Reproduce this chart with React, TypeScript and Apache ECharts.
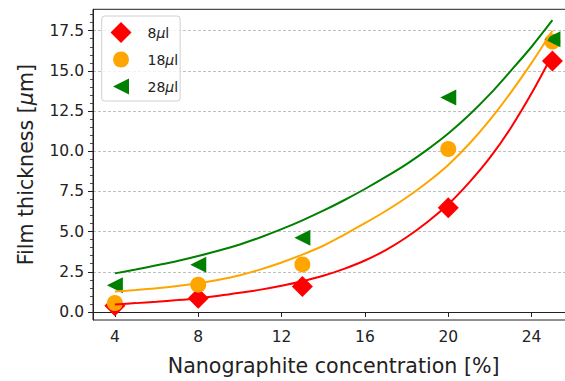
import React, { useEffect, useRef } from 'react';
import * as echarts from 'echarts';

// measured points
const concentrations = [4, 8, 13, 20, 25];
const thickness8 = [0.38, 0.85, 1.58, 6.48, 15.62];
const thickness18 = [0.56, 1.7, 2.96, 10.14, 16.82];
const thickness28 = [1.66, 2.94, 4.62, 13.35, 16.97];

// fitted curves (at each integer concentration)
const fitX = [4, 5, 6, 7, 8, 9, 10, 11, 12, 13, 14, 15, 16, 17, 18, 19, 20, 21, 22, 23, 24, 25];
const fit8 = [0.47, 0.55, 0.64, 0.74, 0.86, 1.01, 1.19, 1.39, 1.63, 1.91, 2.25, 2.68, 3.2, 3.85, 4.65, 5.6, 6.7, 8.05, 9.6, 11.45, 13.6, 16.0];
const fit18 = [1.27, 1.36, 1.47, 1.61, 1.78, 2.0, 2.28, 2.65, 3.08, 3.57, 4.12, 4.8, 5.52, 6.28, 7.12, 8.07, 9.15, 10.45, 11.95, 13.65, 15.5, 17.5];
const fit28 = [2.4, 2.64, 2.9, 3.17, 3.48, 3.82, 4.2, 4.65, 5.15, 5.7, 6.3, 6.95, 7.65, 8.4, 9.2, 10.1, 11.1, 12.25, 13.55, 15.0, 16.5, 18.15];

const seriesNames = ['8μl', '18μl', '28μl'];
const xTicks = [4, 8, 12, 16, 20, 24];
const yTicks = [0, 2.5, 5, 7.5, 10, 12.5, 15, 17.5];
const yMinorTicks = [0, 0.5, 1, 1.5, 2, 2.5, 3, 3.5, 4, 4.5, 5, 5.5, 6, 6.5, 7, 7.5, 8, 8.5, 9, 9.5, 10, 10.5, 11, 11.5, 12, 12.5, 13, 13.5, 14, 14.5, 15, 15.5, 16, 16.5, 17, 17.5, 18, 18.5];

const FONT = 'DejaVu Sans';
const TEXT = '#222222';
const TRI = 'path://M0,8L16,0L16,16Z';
const TRI_LEG = 'path://M0,0M21,21M2.5,10.5L18.5,2.5L18.5,18.5Z';
const CIRC_LEG = 'path://M0,0M21,21M2.5,10.5A8,8,0,1,1,18.5,10.5A8,8,0,1,1,2.5,10.5Z';

const pairs = (xs: number[], ys: number[]) => xs.map((x, i) => [x, ys[i]]);

export default function App() {
  const ref = useRef<HTMLDivElement>(null);
  useEffect(() => {
    if (!ref.current) return;
    const chart = echarts.init(ref.current, null, { renderer: 'svg' });
    chart.setOption({
      animation: false,
      backgroundColor: '#ffffff',
      textStyle: { fontFamily: FONT },
      grid: {
        left: 93,
        top: 9.3,
        right: 25.7,
        bottom: 60.2,
        show: true,
        borderColor: '#222',
        borderWidth: 1,
        backgroundColor: 'transparent',
      },
      legend: {
        show: true,
        orient: 'vertical',
        left: 101.7,
        top: 16,
        padding: [6, 2, 4, 8.8],
        itemWidth: 21,
        itemHeight: 21,
        itemGap: 6,
        backgroundColor: 'rgba(255,255,255,0.8)',
        borderColor: '#d0d0d0',
        borderWidth: 1,
        borderRadius: 3,
        data: [
          { name: seriesNames[0], icon: 'diamond' },
          { name: seriesNames[1], icon: CIRC_LEG },
          { name: seriesNames[2], icon: TRI_LEG },
        ],
        formatter: (n: string) => n.replace('μ', '{i|μ}'),
        textStyle: {
          fontFamily: FONT,
          fontSize: 14,
          color: TEXT,
          padding: [0, 0, 0, 11],
          rich: { i: { fontStyle: 'italic', fontFamily: FONT, fontSize: 14, color: TEXT } },
        },
      },
      xAxis: {
        type: 'value',
        min: 2.95,
        max: 26.05,
        name: 'Nanographite concentration [%]',
        nameLocation: 'middle',
        nameGap: 35,
        nameTextStyle: { fontFamily: FONT, fontSize: 20.6, color: TEXT },
        axisLine: { show: true, lineStyle: { color: '#222', width: 1 } },
        axisTick: { show: true, length: 5, inside: false, customValues: xTicks, lineStyle: { color: '#222' } },
        axisLabel: { customValues: xTicks, margin: 9, fontFamily: FONT, fontSize: 15.5, color: TEXT },
        splitLine: { show: false },
      },
      yAxis: [
        {
          type: 'value',
          position: 'left',
          min: -0.5,
          max: 18.83,
          name: 'Film thickness [{i|μ}m]',
          nameLocation: 'middle',
          nameGap: 57,
          nameTextStyle: {
            fontFamily: FONT,
            fontSize: 20.6,
            color: TEXT,
            rich: { i: { fontStyle: 'italic', fontFamily: FONT, fontSize: 20.6, color: TEXT } },
          },
          axisLine: { show: true, lineStyle: { color: '#222', width: 1 } },
          axisTick: { show: true, length: 5, customValues: yTicks, lineStyle: { color: '#222' } },
          axisLabel: {
            customValues: yTicks,
            margin: 9,
            fontFamily: FONT,
            fontSize: 15.5,
            color: TEXT,
            formatter: (v: number) => v.toFixed(1),
          },
          splitLine: { show: true, lineStyle: { color: '#b0b0b0', width: 0.8, type: [3, 2] } },
        },
        {
          type: 'value',
          position: 'left',
          min: -0.5,
          max: 18.83,
          axisLine: { show: false },
          axisTick: { show: true, length: 3, customValues: yMinorTicks, lineStyle: { color: '#222', width: 0.8 } },
          axisLabel: { show: false },
          splitLine: { show: false },
        },
      ],
      series: [
        {
          name: seriesNames[0],
          type: 'scatter',
          data: pairs(concentrations, thickness8),
          symbol: 'diamond',
          symbolSize: 21,
          itemStyle: { color: '#ff0000', opacity: 1 },
          z: 2,
        },
        {
          name: seriesNames[1],
          type: 'scatter',
          data: pairs(concentrations, thickness18),
          symbol: 'circle',
          symbolSize: 16,
          itemStyle: { color: '#ffa500', opacity: 1 },
          z: 2,
        },
        {
          name: seriesNames[2],
          type: 'scatter',
          data: pairs(concentrations, thickness28),
          symbol: TRI,
          symbolSize: 16,
          itemStyle: { color: '#008000', opacity: 1 },
          z: 2,
        },
        {
          name: 'fit8',
          type: 'line',
          data: pairs(fitX, fit8),
          showSymbol: false,
          smooth: 0.3,
          lineStyle: { color: '#ff0000', width: 2 },
          z: 3,
        },
        {
          name: 'fit18',
          type: 'line',
          data: pairs(fitX, fit18),
          showSymbol: false,
          smooth: 0.3,
          lineStyle: { color: '#ffa500', width: 2 },
          z: 3,
        },
        {
          name: 'fit28',
          type: 'line',
          data: pairs(fitX, fit28),
          showSymbol: false,
          smooth: 0.3,
          lineStyle: { color: '#008000', width: 2 },
          z: 3,
        },
      ],
    });
    return () => chart.dispose();
  }, []);
  return (
    <div
      ref={ref}
      style={{ position: 'fixed', left: 0, top: 0, width: 600, height: 381, background: '#fff' }}
    />
  );
}
